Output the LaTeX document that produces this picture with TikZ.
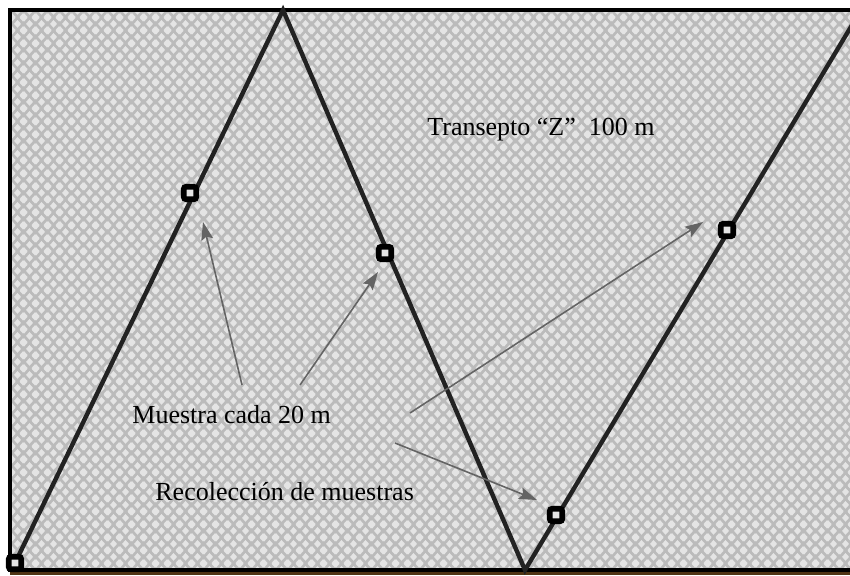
\documentclass[tikz,border=0pt]{standalone}
\usepackage{fontspec}
\setmainfont{Liberation Serif}
\usetikzlibrary{arrows.meta,patterns}
\definecolor{bggray}{RGB}{187,187,187}
\definecolor{diagray}{RGB}{228,228,228}
\definecolor{linedark}{RGB}{34,34,34}
\definecolor{arrowgray}{RGB}{100,100,100}
\definecolor{edgebrown}{RGB}{80,52,20}
\newcommand{\diamondat}[2]{%
  \pgfpathmoveto{\pgfpoint{#1pt-1.9pt}{#2pt}}%
  \pgfpathlineto{\pgfpoint{#1pt}{#2pt+2pt}}%
  \pgfpathlineto{\pgfpoint{#1pt+1.9pt}{#2pt}}%
  \pgfpathlineto{\pgfpoint{#1pt}{#2pt-2pt}}%
  \pgfpathclose}
\pgfdeclarepatternformonly{checkdiamond}{\pgfqpoint{0pt}{0pt}}{\pgfqpoint{6pt}{6.3pt}}{\pgfqpoint{6pt}{6.3pt}}{%
  \diamondat{0}{0}\diamondat{6}{0}\diamondat{0}{6.3}\diamondat{6}{6.3}\diamondat{3}{3.15}%
  \pgfusepath{fill}}
\tikzset{
  transect/.style={draw=linedark,line width=2.2pt},
  sample/.style={draw=black,fill=diagray,line width=2.9pt,rounded corners=1.2pt,
                 minimum size=6.2pt,inner sep=0pt},
  label/.style={anchor=base west,inner sep=0pt,font=\fontsize{13pt}{15pt}\selectfont},
  arr/.style={-{Stealth[length=9pt,width=6pt,inset=1.5pt]},draw=arrowgray,line width=0.8pt},
}
\begin{document}
\begin{tikzpicture}[x=0.5pt,y=-0.5pt]
  \useasboundingbox (0,0) rectangle (850,575);
  \clip (0,0) rectangle (850,575);
  % field background
  \fill[bggray] (10,10) rectangle (850,570);
  \fill[pattern=checkdiamond,pattern color=diagray] (10,10) rectangle (850,570);
  \fill[edgebrown] (10,571) rectangle (850,575);
  \draw[black,line width=2pt] (850,10) -- (10,10) -- (10,570) -- (850,570);
  % transect path
  \coordinate (apex) at (283,10);
  \coordinate (vally) at (525,570);
  \coordinate (exit) at (861,10);
  \coordinate (start) at (15,563);
  \draw[transect] (start) -- (apex) -- (vally) -- (exit);
  % sampling points
  \node[sample] (s0) at (start) {};
  \node[sample] (s1) at (190,193) {};
  \node[sample] (s2) at (385,253) {};
  \node[sample] (s3) at (727,230) {};
  \node[sample] (s4) at (556,515) {};
  % labels
  \node[label] (title) at (427,135) {Transepto “Z”\ \ 100 m};
  \node[label] (every) at (132,423) {Muestra cada 20 m};
  \node[label] (collect) at (155,500) {Recolección de muestras};
  % pointers
  \coordinate (p1) at (242,385); \coordinate (q1) at (203,222);
  \coordinate (p2) at (300,385); \coordinate (q2) at (378,272);
  \coordinate (p3) at (410,413); \coordinate (q3) at (703,222);
  \coordinate (p4) at (395,443); \coordinate (q4) at (537,500);
  \draw[arr] (p1) -- (q1);
  \draw[arr] (p2) -- (q2);
  \draw[arr] (p3) -- (q3);
  \draw[arr] (p4) -- (q4);
\end{tikzpicture}
\end{document}
